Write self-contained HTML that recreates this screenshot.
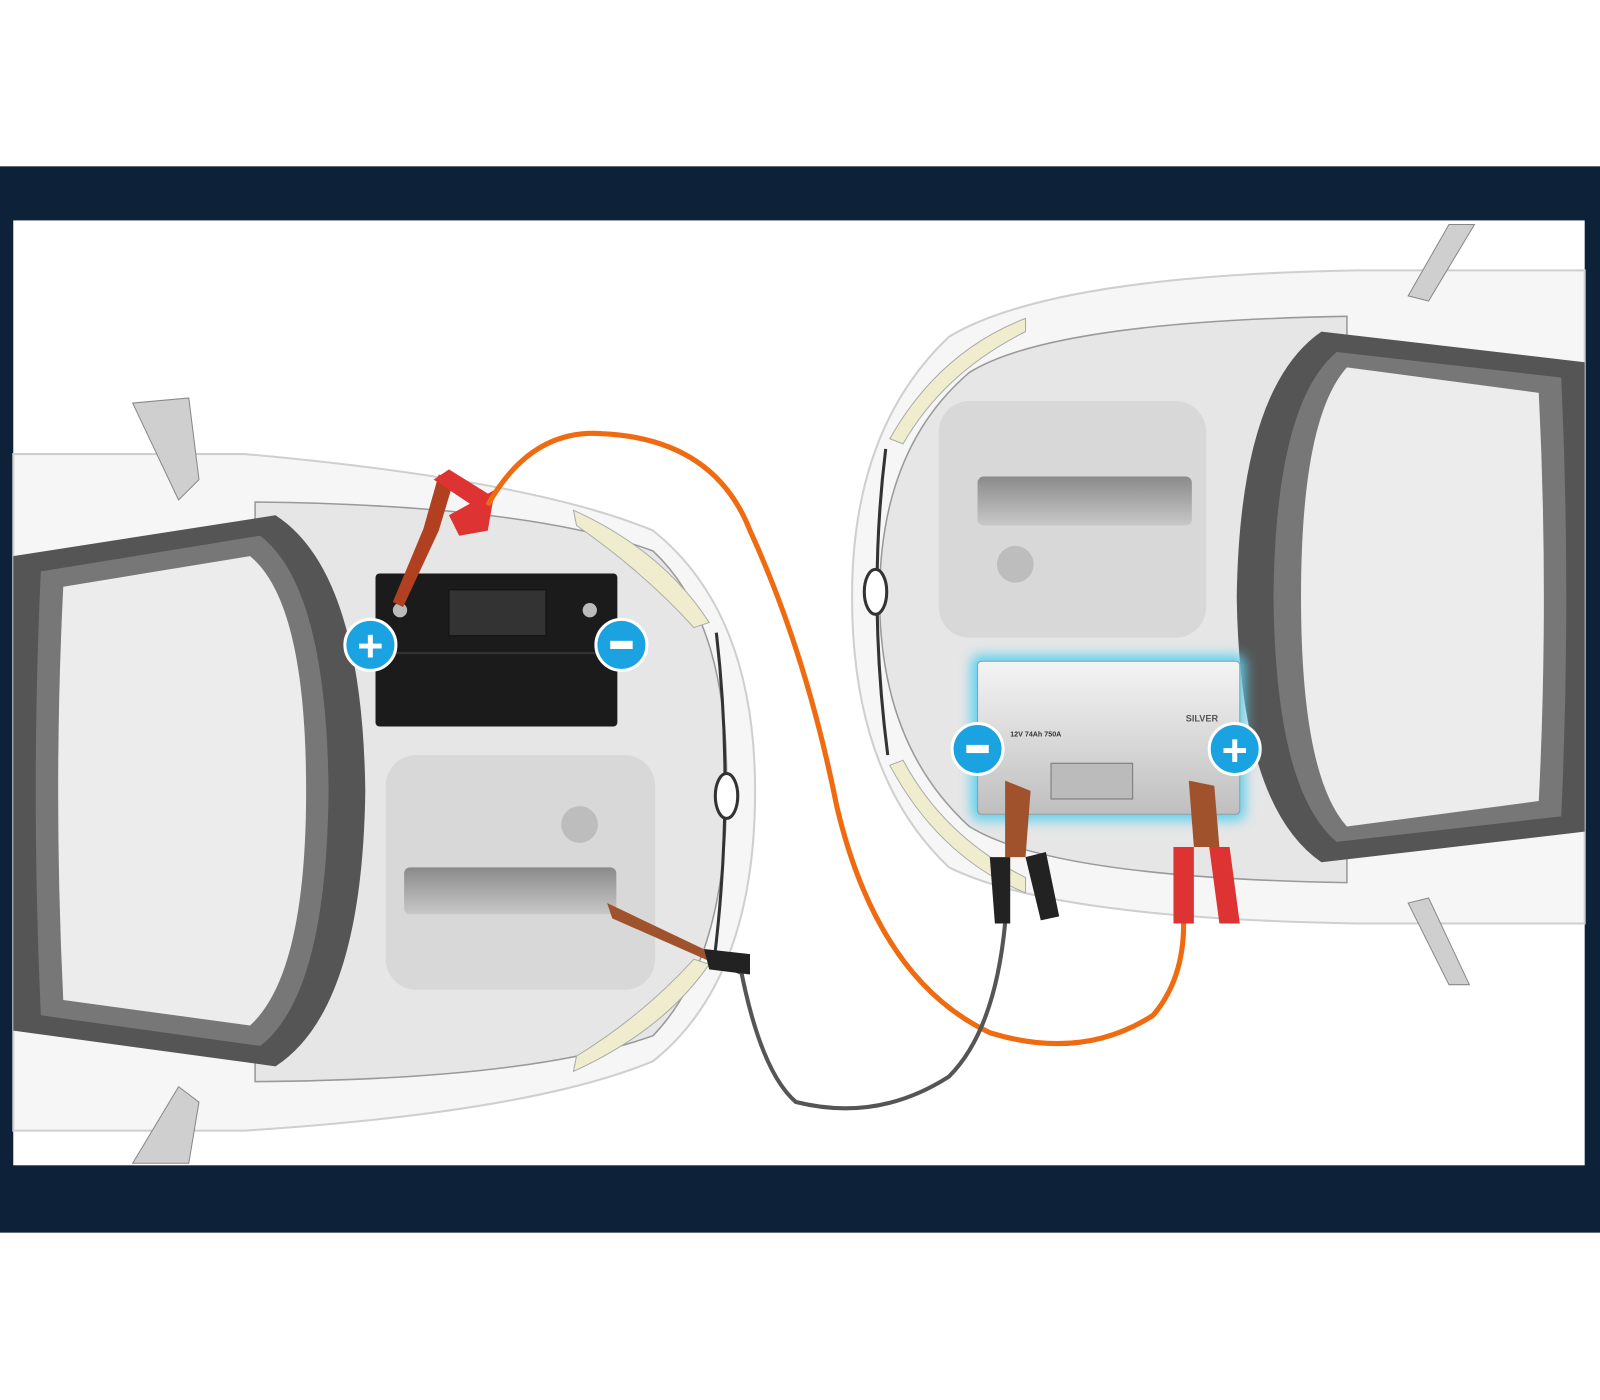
<!DOCTYPE html>
<html><head><meta charset="utf-8"><style>html,body{margin:0;padding:0;background:#fff}svg{display:block}</style></head><body>
<svg width="1600" height="1400" viewBox="0 0 1568 1372" preserveAspectRatio="none" xmlns="http://www.w3.org/2000/svg">
<defs>
<filter id="glow" x="-20%" y="-20%" width="140%" height="140%"><feGaussianBlur stdDeviation="6"/></filter>
<linearGradient id="silver" x1="0" y1="0" x2="0" y2="1"><stop offset="0" stop-color="#f4f4f4"/><stop offset="1" stop-color="#bfbfbf"/></linearGradient>
<linearGradient id="slot" x1="0" y1="0" x2="0" y2="1"><stop offset="0" stop-color="#8a8a8a"/><stop offset="1" stop-color="#c8c8c8"/></linearGradient>
</defs>
<rect width="1568" height="1372" fill="#fff"/>
<rect x="0" y="163" width="1568" height="1045" fill="#0d2138"/>
<rect x="13" y="216" width="1540" height="926" fill="#fff"/>

<!-- LEFT CAR -->
<path d="M13 445 L240 445 Q520 470 640 520 Q740 600 740 775 Q740 960 640 1040 Q520 1090 240 1108 L13 1108 Z" fill="#f6f6f6" stroke="#cfcfcf" stroke-width="2"/>
<path d="M250 492 Q520 495 640 540 Q715 610 712 775 Q712 940 640 1015 Q520 1058 250 1060 Z" fill="#e6e6e6" stroke="#999" stroke-width="1.5"/>
<path d="M702 620 Q720 775 700 940" fill="none" stroke="#333" stroke-width="3"/>
<ellipse cx="712" cy="780" rx="11" ry="22" fill="#fff" stroke="#333" stroke-width="3"/>
<!-- left windshield -->
<path d="M13 545 L270 505 Q355 560 358 775 Q355 990 270 1045 L13 1010 Z" fill="#555"/>
<path d="M40 560 L255 525 Q320 575 322 775 Q320 975 255 1025 L40 995 Q30 775 40 560 Z" fill="#777"/>
<path d="M62 575 L245 545 Q300 590 300 775 Q300 955 245 1005 L62 980 Q52 775 62 575 Z" fill="#ececec"/>
<path d="M130 395 L185 390 L195 470 L175 490 Z" fill="#cfcfcf" stroke="#888"/>
<path d="M130 1140 L175 1065 L195 1080 L185 1140 Z" fill="#cfcfcf" stroke="#888"/>
<!-- headlights -->
<path d="M562 500 Q650 540 695 610 L680 615 Q630 560 565 515 Z" fill="#f0edcf" stroke="#aaa"/>
<path d="M562 1050 Q650 1010 695 945 L680 940 Q630 995 565 1035 Z" fill="#f0edcf" stroke="#aaa"/>
<!-- left reservoir -->
<rect x="378" y="740" width="264" height="230" rx="30" fill="#d8d8d8"/>
<rect x="396" y="850" width="208" height="46" rx="6" fill="url(#slot)"/>
<circle cx="568" cy="808" r="18" fill="#bdbdbd"/>
<!-- left battery -->
<rect x="368" y="562" width="237" height="150" rx="4" fill="#1b1b1b"/>
<rect x="440" y="578" width="95" height="45" fill="#333" stroke="#111"/>
<line x1="368" y1="640" x2="605" y2="640" stroke="#333" stroke-width="2"/>
<circle cx="578" cy="598" r="7" fill="#bbb"/>
<circle cx="392" cy="598" r="7" fill="#bbb"/>
<!-- red clamp on left + -->
<path d="M395 595 L430 520 L445 470 L430 465 L415 518 L385 590 Z" fill="#b04020"/>
<path d="M425 470 L470 500 L485 488 L440 460 Z" fill="#d33"/>
<path d="M440 505 L485 480 L478 520 L450 525 Z" fill="#d33"/>

<!-- RIGHT CAR -->
<path d="M1553 265 L1330 265 Q1030 270 930 330 Q835 420 835 585 Q835 760 930 850 Q1030 900 1330 905 L1553 905 Z" fill="#f6f6f6" stroke="#cfcfcf" stroke-width="2"/>
<path d="M1320 310 Q1030 315 950 365 Q862 440 862 585 Q862 730 950 810 Q1030 860 1320 865 Z" fill="#e6e6e6" stroke="#999" stroke-width="1.5"/>
<path d="M868 440 Q850 585 870 740" fill="none" stroke="#333" stroke-width="3"/>
<ellipse cx="858" cy="580" rx="11" ry="22" fill="#fff" stroke="#333" stroke-width="3"/>
<path d="M1553 355 L1295 325 Q1215 380 1212 585 Q1215 790 1295 845 L1553 815 Z" fill="#555"/>
<path d="M1530 370 L1310 345 Q1250 395 1248 585 Q1250 775 1310 825 L1530 800 Q1540 585 1530 370 Z" fill="#777"/>
<path d="M1508 385 L1320 360 Q1275 410 1275 585 Q1275 760 1320 810 L1508 785 Q1518 585 1508 385 Z" fill="#ececec"/>
<path d="M1380 290 L1420 220 L1445 220 L1400 295 Z" fill="#cfcfcf" stroke="#888"/>
<path d="M1380 885 L1420 965 L1440 965 L1400 880 Z" fill="#cfcfcf" stroke="#888"/>
<path d="M1005 312 Q920 345 872 430 L885 435 Q925 365 1005 325 Z" fill="#f0edcf" stroke="#aaa"/>
<path d="M1005 875 Q920 840 872 750 L885 745 Q925 820 1005 860 Z" fill="#f0edcf" stroke="#aaa"/>
<rect x="920" y="393" width="262" height="232" rx="30" fill="#d8d8d8"/>
<rect x="958" y="467" width="210" height="48" rx="6" fill="url(#slot)"/>
<circle cx="995" cy="553" r="18" fill="#bdbdbd"/>
<!-- right battery -->
<rect x="952" y="642" width="268" height="162" rx="8" fill="#5ad0f0" filter="url(#glow)"/>
<rect x="958" y="648" width="257" height="150" rx="4" fill="url(#silver)" stroke="#999"/>
<rect x="1030" y="748" width="80" height="35" fill="#bbb" stroke="#777"/>
<text x="990" y="722" font-family="Liberation Sans,sans-serif" font-size="7" font-weight="bold" fill="#333">12V 74Ah 750A</text>
<text x="1162" y="707" font-family="Liberation Sans,sans-serif" font-size="9" font-weight="bold" fill="#555">SILVER</text>

<!-- cables -->
<path d="M478 495 Q520 420 590 425 Q700 430 735 520 Q790 640 820 790 Q860 960 970 1012 Q1060 1040 1130 995 Q1160 960 1160 905" fill="none" stroke="#f06a10" stroke-width="5"/>
<path d="M725 945 Q745 1050 780 1080 Q860 1100 930 1055 Q975 1010 985 905" fill="none" stroke="#555" stroke-width="4"/>
<!-- black clamp on left ground -->
<path d="M595 885 L700 935 L730 945 L725 955 L600 900 Z" fill="#a0522d"/>
<path d="M690 930 L735 935 L735 955 L695 950 Z" fill="#222"/>
<!-- right clamps -->
<path d="M985 765 L1010 775 L1005 840 L985 840 Z" fill="#a0522d"/>
<path d="M970 840 L990 840 L990 905 L975 905 Z" fill="#222"/>
<path d="M1005 840 L1025 835 L1038 898 L1020 902 Z" fill="#222"/>
<path d="M1165 765 L1190 770 L1195 830 L1170 830 Z" fill="#a0522d"/>
<path d="M1150 830 L1170 830 L1170 905 L1150 905 Z" fill="#d33"/>
<path d="M1185 830 L1205 830 L1215 905 L1195 905 Z" fill="#d33"/>

<!-- plus/minus badges -->
<g font-family="Liberation Sans,sans-serif" font-weight="bold" fill="#fff" text-anchor="middle">
<circle cx="363" cy="632" r="25" fill="#1aa3e0" stroke="#fff" stroke-width="3"/><text x="363" y="648" font-size="44">+</text>
<circle cx="609" cy="632" r="25" fill="#1aa3e0" stroke="#fff" stroke-width="3"/><rect x="598" y="628" width="22" height="8" fill="#fff"/>
<circle cx="958" cy="734" r="25" fill="#1aa3e0" stroke="#fff" stroke-width="3"/><rect x="947" y="730" width="22" height="8" fill="#fff"/>
<circle cx="1210" cy="734" r="25" fill="#1aa3e0" stroke="#fff" stroke-width="3"/><text x="1210" y="750" font-size="44">+</text>
</g>
</svg>
</body></html>
